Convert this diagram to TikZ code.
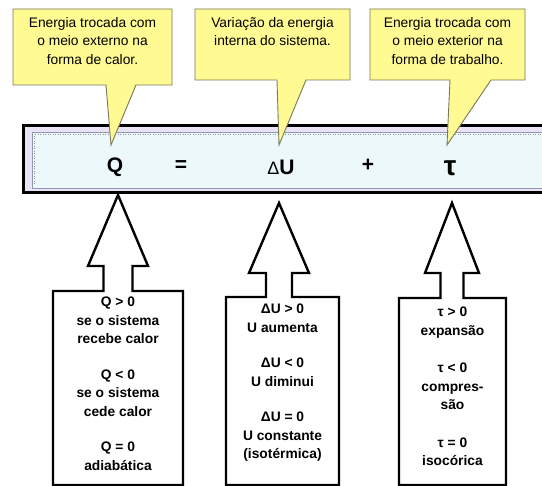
\documentclass[tikz,border=0pt]{standalone}
\usepackage{fontspec}
\setmainfont{Liberation Sans}
\definecolor{calloutfill}{RGB}{255,250,145}
\definecolor{calloutline}{RGB}{120,120,90}
\definecolor{barin}{RGB}{236,248,250}
\definecolor{barband}{RGB}{232,228,246}
\definecolor{barline}{RGB}{150,150,175}
\tikzset{
  callout/.style={fill=calloutfill, draw=calloutline, line width=0.9pt, line join=miter},
  callouttext/.style={align=center, inner sep=0pt, font=\fontsize{13.8}{18.5}\selectfont},
  eqsym/.style={inner sep=0pt, font=\fontsize{21}{24}\selectfont\bfseries},
  arrowbox/.style={draw=black, fill=white, line width=2.4pt, line join=miter},
  boxtext/.style={align=center, inner sep=0pt, anchor=north, font=\fontsize{13.8}{18.5}\selectfont\bfseries}
}
\begin{document}
\begin{tikzpicture}[x=1pt,y=-1pt]
\useasboundingbox (0,0) rectangle (542,486);
\fill[white] (0,0) rectangle (542,486);
% equation bar
\fill[barband] (22,125) rectangle (548,193);
\fill[barin] (32,132) rectangle (548,188);
\draw[barline, line width=0.8pt] (548,132) -- (32,132) -- (32,188) -- (548,188);
\draw[barline, line width=0.5pt, dotted] (548,134.5) -- (34.5,134.5) -- (34.5,185.5);
\draw[black, line width=3pt] (548,125.5) -- (23.5,125.5) -- (23.5,192.5) -- (548,192.5);
% equation
\node[eqsym] (q) at (115,167) {Q};
\node[eqsym] (eq) at (181,166) {=};
\node[eqsym] (du) at (281,167) {{\fontsize{18}{20}\mdseries Δ}U};
\node[eqsym] (plus) at (368,165) {+};
\node[eqsym, font=\fontsize{28}{30}\selectfont\bfseries] (tau) at (450,168) {τ};
% callouts
\draw[callout] (13,9) -- (172,9) -- (172,85) -- (136,85) -- (111,145) -- (106,85) -- (13,85) -- cycle;
\draw[callout] (195,9) -- (350,9) -- (350,80) -- (306,80) -- (279,145) -- (277,80) -- (195,80) -- cycle;
\draw[callout] (370,9) -- (525,9) -- (525,80) -- (491,80) -- (447,145) -- (450,80) -- (370,80) -- cycle;
\node[callouttext, anchor=north] (c1) at (92.5,17) {Energia trocada com\\o meio externo na\\forma de calor.};
\node[callouttext, anchor=north] (c2) at (272.5,17) {Variação da energia\\interna do sistema.};
\node[callouttext, anchor=north] (c3) at (447.5,17) {Energia trocada com\\o meio exterior na\\forma de trabalho.};
% arrow boxes
\draw[arrowbox] (53,485) -- (53,291) -- (103.5,291) -- (103.5,266) -- (88,266) -- (118,195) -- (148,266) -- (132.5,266) -- (132.5,291) -- (183,291) -- (183,485) -- cycle;
\draw[arrowbox] (226,485) -- (226,297) -- (266,297) -- (266,273) -- (249,273) -- (279,203) -- (309,273) -- (292,273) -- (292,297) -- (339,297) -- (339,485) -- cycle;
\draw[arrowbox] (399,485) -- (399,298) -- (440.5,298) -- (440.5,273) -- (425,273) -- (452,203) -- (479,273) -- (463.5,273) -- (463.5,298) -- (506,298) -- (506,485) -- cycle;
\node[boxtext] (b1) at (118,297) {Q > 0\\se o sistema\\recebe calor\\[17pt]Q < 0\\se o sistema\\cede calor\\[17pt]Q = 0\\adiabática};
\node[boxtext] (b2) at (282.5,304) {ΔU > 0\\U aumenta\\[17pt]ΔU < 0\\U diminui\\[17pt]ΔU = 0\\U constante\\(isotérmica)};
\node[boxtext] (b3) at (452.5,307) {τ > 0\\expansão\\[19pt]τ < 0\\compres-\\são\\[19pt]τ = 0\\isocórica};
\end{tikzpicture}
\end{document}
